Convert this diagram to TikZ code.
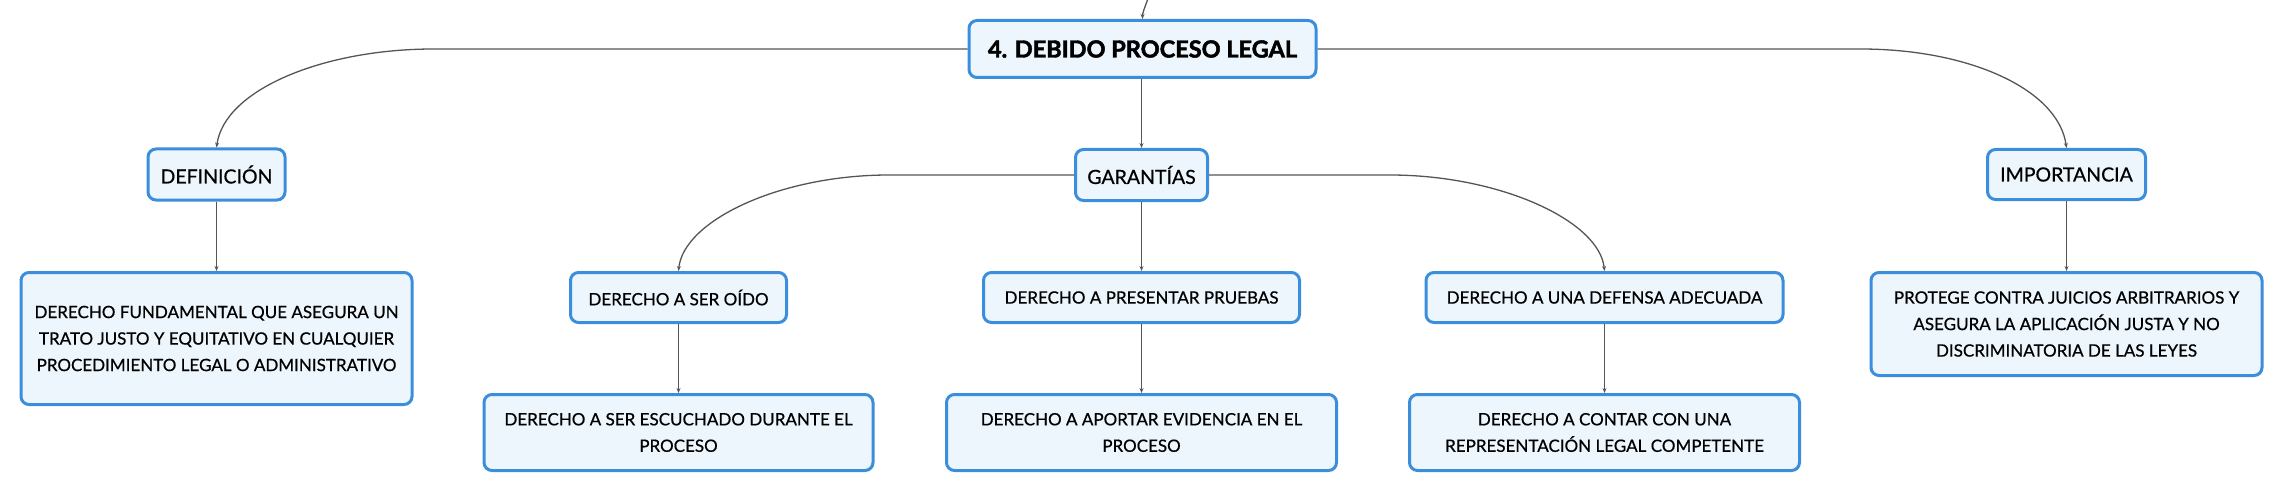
\documentclass[tikz,border=0pt]{standalone}
\usepackage{fontspec}
\setmainfont{Lato}[UprightFeatures={FakeBold=0.6},BoldFeatures={FakeBold=2}]
\usetikzlibrary{arrows.meta}
\definecolor{boxblue}{HTML}{3A8EDB}
\definecolor{boxfill}{HTML}{EEF6FD}
\definecolor{linegray}{HTML}{555555}
\tikzset{
  topic/.style={draw=boxblue, line width=3pt, fill=boxfill, rounded corners=8pt,
    inner sep=0pt, align=center, font=\fontsize{17}{26.5}\selectfont, text=black},
  subtopic/.style={topic, font=\fontsize{19.5}{26.5}\selectfont},
  maintopic/.style={topic, font=\fontsize{23.5}{28}\selectfont\bfseries},
  conn/.style={draw=linegray, line width=1.3pt, -{Stealth[length=5pt,width=4pt]}}
}
\begin{document}
\begin{tikzpicture}[x=1pt,y=-1pt]
\useasboundingbox (0,0) rectangle (2284,492);

\node[maintopic, minimum width=347pt, minimum height=57pt] (root) at (1142.5,49) {4. DEBIDO PROCESO LEGAL};

\node[subtopic, minimum width=137pt, minimum height=51pt] (def) at (216.5,174.5) {DEFINICIÓN};
\node[subtopic, minimum width=132pt, minimum height=51pt] (gar) at (1141.5,175) {GARANTÍAS};
\node[subtopic, minimum width=158pt, minimum height=50pt] (imp) at (2066.5,174.5) {IMPORTANCIA};

\node[topic, minimum width=391pt, minimum height=132pt] (defc) at (216.5,338.5)
  {DERECHO FUNDAMENTAL QUE ASEGURA UN\\TRATO JUSTO Y EQUITATIVO EN CUALQUIER\\PROCEDIMIENTO LEGAL O ADMINISTRATIVO};
\node[topic, minimum width=391pt, minimum height=103pt] (impc) at (2066.5,324)
  {PROTEGE CONTRA JUICIOS ARBITRARIOS Y\\ASEGURA LA APLICACIÓN JUSTA Y NO\\DISCRIMINATORIA DE LAS LEYES};

\node[topic, minimum width=216pt, minimum height=50pt] (oido) at (678.5,297.5) {DERECHO A SER OÍDO};
\node[topic, minimum width=316pt, minimum height=50pt] (pres) at (1141.5,297.5) {DERECHO A PRESENTAR PRUEBAS};
\node[topic, minimum width=357pt, minimum height=50pt] (dfa) at (1604.5,297.5) {DERECHO A UNA DEFENSA ADECUADA};

\node[topic, minimum width=389pt, minimum height=76pt] (oidoc) at (678.5,432.5)
  {DERECHO A SER ESCUCHADO DURANTE EL\\PROCESO};
\node[topic, minimum width=390pt, minimum height=76pt] (presc) at (1141.5,432.5)
  {DERECHO A APORTAR EVIDENCIA EN EL\\PROCESO};
\node[topic, minimum width=390pt, minimum height=76pt] (dfac) at (1604.5,432.5)
  {DERECHO A CONTAR CON UNA\\REPRESENTACIÓN LEGAL COMPETENTE};

\coordinate (up) at (1147.5,0);
\draw[conn] (up) .. controls +(-3,8) and +(0,-6) .. (root.north);

\draw[conn] (root.west) -- ++(-534,0) .. controls +(-110,0) and +(8,-58) .. (def.north);
\draw[conn] (root.east) -- ++(543,0) .. controls +(110,0) and +(-8,-58) .. (imp.north);
\draw[conn] ([xshift=-1pt]root.south) -- ([xshift=-1pt]root.south |- gar.north);

\draw[conn] (gar.west) -- ++(-185,0) .. controls +(-110,0) and +(5,-50) .. (oido.north);
\draw[conn] (gar.east) -- ++(181,0) .. controls +(110,0) and +(-5,-50) .. (dfa.north);
\draw[conn] (gar.south) -- (gar.south |- pres.north);

\draw[conn] (def.south) -- (def.south |- defc.north);
\draw[conn] (imp.south) -- (imp.south |- impc.north);
\draw[conn] (oido.south) -- (oido.south |- oidoc.north);
\draw[conn] (pres.south) -- (pres.south |- presc.north);
\draw[conn] (dfa.south) -- (dfa.south |- dfac.north);
\end{tikzpicture}
\end{document}
